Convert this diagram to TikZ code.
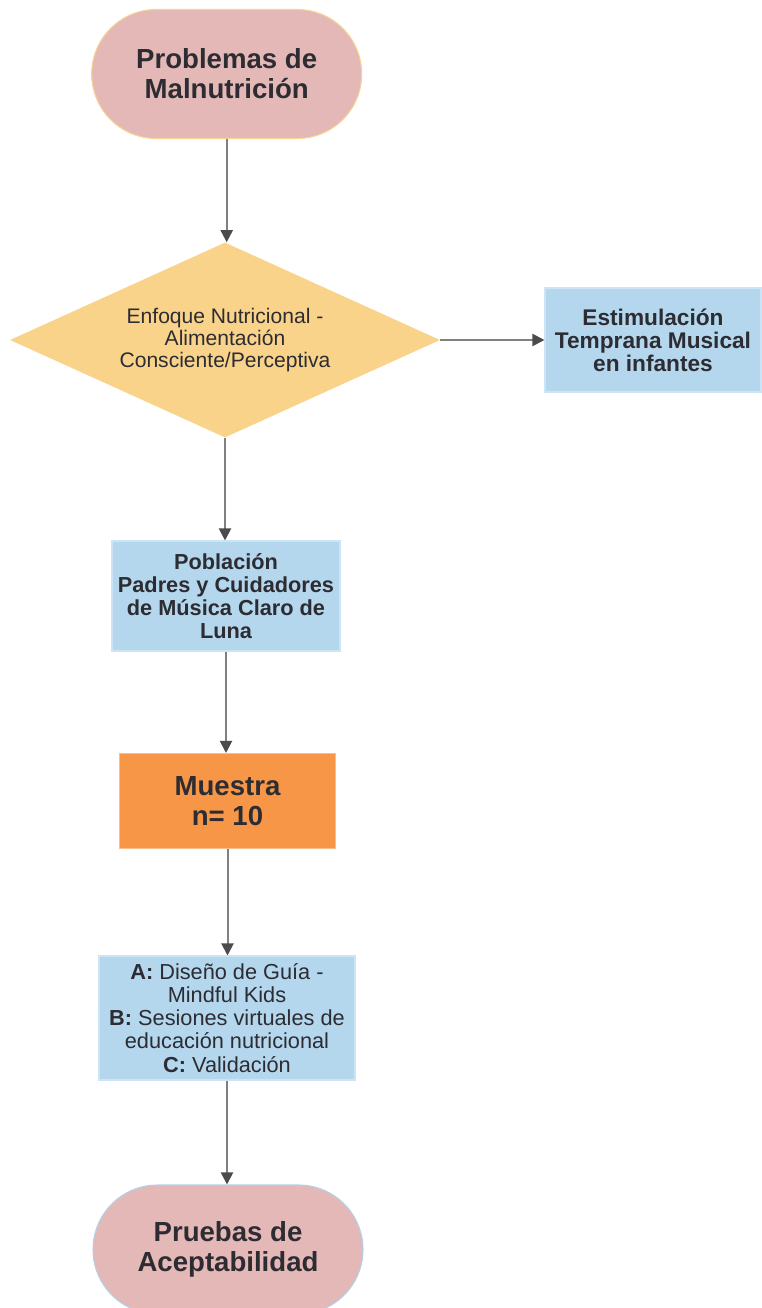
\documentclass[tikz,border=0pt]{standalone}
\usepackage{fontspec}
\setmainfont{Liberation Sans}
\usetikzlibrary{shapes.geometric,shapes.misc,arrows.meta}
\definecolor{termfill}{RGB}{228,184,183}
\definecolor{termedgeA}{RGB}{246,212,150}
\definecolor{termedgeB}{RGB}{178,210,234}
\definecolor{diafill}{RGB}{250,211,138}
\definecolor{bluefill}{RGB}{180,215,238}
\definecolor{blueedge}{RGB}{205,228,246}
\definecolor{orangefill}{RGB}{247,150,70}
\definecolor{orangeedge}{RGB}{250,190,140}
\definecolor{txt}{RGB}{44,44,50}
\definecolor{linec}{RGB}{128,128,128}
\definecolor{tipc}{RGB}{75,75,75}
\begin{document}
\begin{tikzpicture}[x=0.75pt,y=-0.75pt,
  every node/.style={text=txt,inner sep=0pt,align=center},
  terminal/.style={rounded rectangle,fill=termfill,line width=0.8pt,minimum width=202.5pt,minimum height=96.75pt,
    font=\bfseries\fontsize{20.7}{22.3}\selectfont},
  decision/.style={diamond,aspect=2.2,fill=diafill,minimum width=322.5pt,minimum height=146.25pt,
    font=\fontsize{15.8}{16.4}\selectfont},
  bluebox/.style={rectangle,fill=bluefill,draw=blueedge,line width=0.8pt},
  orangebox/.style={rectangle,fill=orangefill,draw=orangeedge,line width=0.8pt},
  flow/.style={draw=linec,line width=1.5pt,-{Triangle[length=9pt,width=9pt,color=tipc]}}
]
\useasboundingbox (0,0) rectangle (761,1308);
\node[terminal,draw=termedgeA] (t1) at (226.7,74) {Problemas de\\Malnutrición};
\node[decision] (d) at (225,340) {Enfoque Nutricional -\\Alimentación\\Consciente/Perceptiva};
\node[bluebox,minimum width=162pt,minimum height=78pt,font=\bfseries\fontsize{17}{17.3}\selectfont] (est) at (653,340)
  {Estimulación\\Temprana Musical\\en infantes};
\node[bluebox,minimum width=171pt,minimum height=82.5pt,font=\bfseries\fontsize{16.3}{17.3}\selectfont] (pob) at (226,596)
  {Población\\Padres y Cuidadores\\de Música Claro de\\Luna};
\node[orangebox,minimum width=162pt,minimum height=71.25pt,font=\bfseries\fontsize{20.7}{22.3}\selectfont] (mue) at (227.5,801)
  {Muestra\\n= 10};
\node[bluebox,minimum width=192pt,minimum height=93pt,font=\fontsize{16.3}{17.3}\selectfont] (abc) at (227,1018)
  {\textbf{A:} Diseño de Guía -\\Mindful Kids\\\textbf{B:} Sesiones virtuales de\\educación nutricional\\\textbf{C:} Validación};
\node[terminal,draw=termedgeB] (t2) at (228,1249.5) {Pruebas de\\Aceptabilidad};
\draw[flow] (t1.south) -- (t1.south |- d.north);
\draw[flow] (d.east) -- (est.west);
\draw[flow] (d.south) -- (d.south |- pob.north);
\draw[flow] (pob.south) -- (pob.south |- mue.north);
\draw[flow] (mue.south) -- (mue.south |- abc.north);
\draw[flow] (abc.south) -- (abc.south |- t2.north);
\end{tikzpicture}
\end{document}
